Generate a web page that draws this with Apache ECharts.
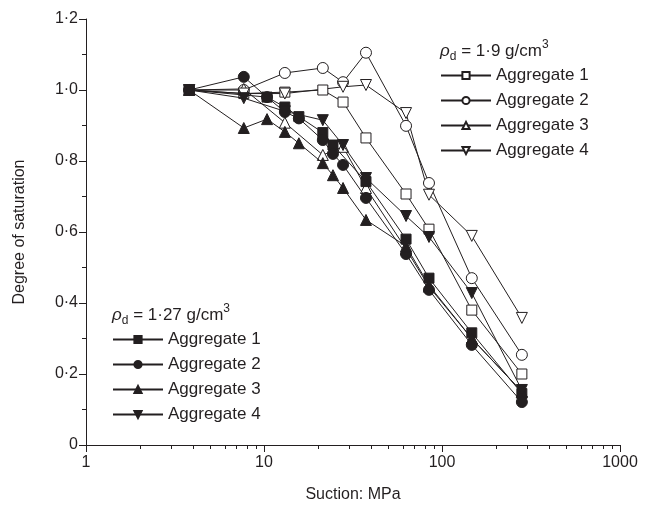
<!DOCTYPE html>
<html>
<head>
<meta charset="utf-8">
<script src="https://cdn.jsdelivr.net/npm/echarts@6/dist/echarts.min.js"></script>
<style>
html,body{margin:0;padding:0;background:#fff;}
#c{width:649px;height:511px;}
</style>
</head>
<body>
<div id="c"></div>
<script>
// ---- data (suction in MPa, degree of saturation) ----
const names = ['Aggregate 1', 'Aggregate 2', 'Aggregate 3', 'Aggregate 4'];

// rho_d = 1.9 g/cm3 (open symbols)
const open1 = [[3.8,1.0],[7.7,0.99],[13.1,0.994],[21.4,1.0],[27.8,0.966],[37.4,0.865],[62.8,0.707],[84.5,0.608],[147,0.38],[281,0.20]];
const open2 = [[3.8,1.0],[7.7,1.0],[13.1,1.048],[21.4,1.062],[27.8,1.022],[37.4,1.105],[62.8,0.899],[84.5,0.738],[147,0.47],[281,0.254]];
const open3 = [[3.8,1.0],[7.7,1.003],[13.1,0.908],[21.4,0.817],[27.8,0.84],[37.4,0.724],[62.8,0.552],[84.5,0.446],[147,0.30],[281,0.15]];
const open4 = [[3.8,1.0],[7.7,0.99],[13.1,0.99],[27.8,1.009],[37.4,1.014],[62.8,0.935],[84.5,0.705],[147,0.589],[281,0.358]];

// rho_d = 1.27 g/cm3 (filled symbols)
const fill1 = [[3.8,1.0],[10.4,0.98],[13.1,0.952],[15.7,0.925],[21.4,0.88],[24.4,0.845],[37.4,0.742],[62.8,0.58],[84.5,0.47],[147,0.316],[281,0.145]];
const fill2 = [[3.8,1.0],[7.7,1.037],[10.4,0.98],[13.1,0.938],[15.7,0.92],[21.4,0.859],[24.4,0.82],[27.8,0.789],[37.4,0.696],[62.8,0.538],[84.5,0.437],[147,0.282],[281,0.121]];
const fill3 = [[3.8,1.0],[7.7,0.893],[10.4,0.918],[13.1,0.882],[15.7,0.85],[21.4,0.794],[24.4,0.76],[27.8,0.724],[37.4,0.634],[62.8,0.56],[84.5,0.45],[147,0.30],[281,0.15]];
const fill4 = [[3.8,1.0],[7.7,0.977],[13.1,0.94],[21.4,0.915],[27.8,0.845],[37.4,0.752],[62.8,0.645],[84.5,0.586],[147,0.428],[281,0.155]];

// axis ticks
const xMajor = [1, 10, 100, 1000];
const xMinor = [2,3,4,5,6,7,8,9,20,30,40,50,60,70,80,90,200,300,400,500,600,700,800,900];

const INK = '#231f20';
const FONT = 'Liberation Sans';

function yLabel(v) {
  if (Math.abs(v) < 1e-9) return '0';
  return v.toFixed(1).replace('.', '\u00b7');
}

const symbols = ['rect', 'circle', 'triangle', 'triangle'];
const rotates = [0, 0, 0, 180];
const sizes = [10, 11, 11, 11];

function mkSeries(name, data, idx, filled) {
  return {
    name: name,
    type: 'line',
    data: data,
    symbol: symbols[idx],
    symbolRotate: rotates[idx],
    symbolSize: sizes[idx],
    showAllSymbol: true,
    lineStyle: { color: INK, width: 1 },
    itemStyle: { color: filled ? INK : '#fff', borderColor: INK, borderWidth: 1 },
    emphasis: { disabled: true },
    z: filled ? 3 : 2,
    animation: false
  };
}

const openSeries = [open1, open2, open3, open4];
const fillSeries = [fill1, fill2, fill3, fill4];
const series = [];
openSeries.forEach((d, i) => series.push(mkSeries('o' + i, d, i, false)));
fillSeries.forEach((d, i) => series.push(mkSeries('f' + i, d, i, true)));

// minor ticks of the log axis, placed through the axis scale
series.push({
  name: 'minorTicks',
  type: 'custom',
  data: xMinor.map(v => [v, 0]),
  clip: false,
  silent: true,
  z: 1,
  animation: false,
  renderItem: function (params, api) {
    const p = api.coord([api.value(0), api.value(1)]);
    const x = Math.round(p[0]) + 0.5;
    return {
      type: 'line',
      shape: { x1: x, y1: p[1], x2: x, y2: p[1] + 4 },
      style: { stroke: INK, lineWidth: 1 }
    };
  }
});

const chart = echarts.init(document.getElementById('c'), null, { renderer: 'canvas' });

const legendCommon = {
  orient: 'vertical',
  itemWidth: 50,
  itemHeight: 9,
  itemGap: 8,
  textStyle: { fontFamily: FONT, fontSize: 17, color: INK },
  formatter: function (n) { return names[+n.slice(1)]; },
  selectedMode: false
};

const titleRich = {
  i: { fontFamily: FONT, fontSize: 17, fontStyle: 'italic', fontWeight: 'normal', color: INK, verticalAlign: 'middle', lineHeight: 24 },
  sub: { fontFamily: FONT, fontSize: 12, fontWeight: 'normal', color: INK, verticalAlign: 'bottom', lineHeight: 12 },
  n: { fontFamily: FONT, fontSize: 17, fontWeight: 'normal', color: INK, verticalAlign: 'middle', lineHeight: 24 },
  sup: { fontFamily: FONT, fontSize: 12, fontWeight: 'normal', color: INK, verticalAlign: 'top', lineHeight: 12 }
};

chart.setOption({
  animation: false,
  backgroundColor: '#fff',
  textStyle: { fontFamily: FONT },
  grid: { left: 86, right: 29, top: 19, bottom: 66, containLabel: false },
  title: [
    { text: '{i|\u03c1}{sub|d}{n| = 1\u00b79 g/cm}{sup|3}', left: 435, top: 34, textStyle: { fontWeight: 'normal', rich: titleRich } },
    { text: '{i|\u03c1}{sub|d}{n| = 1\u00b727 g/cm}{sup|3}', left: 107, top: 298, textStyle: { fontWeight: 'normal', rich: titleRich } }
  ],
  legend: [
    Object.assign({}, legendCommon, { left: 435, top: 62, data: ['o0', 'o1', 'o2', 'o3'] }),
    Object.assign({}, legendCommon, { left: 107, top: 326, data: ['f0', 'f1', 'f2', 'f3'] })
  ],
  xAxis: {
    type: 'log',
    logBase: 10,
    min: xMajor[0],
    max: xMajor[xMajor.length - 1],
    name: 'Suction: MPa',
    nameLocation: 'middle',
    nameGap: 42,
    nameTextStyle: { fontFamily: FONT, fontSize: 16, color: INK },
    axisLine: { show: true, lineStyle: { color: INK, width: 1 } },
    axisTick: { show: true, inside: false, length: 7, lineStyle: { color: INK } },
    axisLabel: { show: true, fontFamily: FONT, fontSize: 16, color: INK, margin: 10, formatter: function (v) { return String(Math.round(v)); } },
    splitLine: { show: false },
    minorTick: { show: false }
  },
  yAxis: {
    type: 'value',
    min: 0,
    max: 1.2,
    interval: 0.2,
    name: 'Degree of saturation',
    nameLocation: 'middle',
    nameGap: 58,
    nameTextStyle: { fontFamily: FONT, fontSize: 16, color: INK },
    axisLine: { show: true, lineStyle: { color: INK, width: 1 } },
    axisTick: { show: true, inside: false, length: 7, lineStyle: { color: INK } },
    minorTick: { show: true, splitNumber: 2, length: 4, lineStyle: { color: INK } },
    axisLabel: { fontFamily: FONT, fontSize: 16, color: INK, margin: 8, formatter: yLabel },
    splitLine: { show: false },
    minorSplitLine: { show: false }
  },
  series: series
});
</script>
</body>
</html>
